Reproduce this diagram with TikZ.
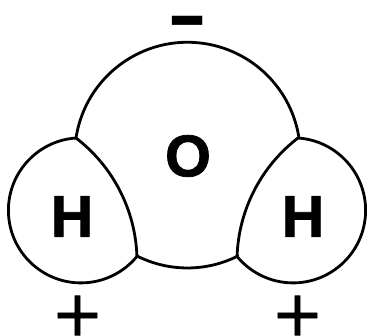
\documentclass[tikz,border=0pt]{standalone}
\usepackage{fontspec}
\setmainfont{Liberation Sans}
\newfontfamily\heavyfont[UprightFont=* Bold,FakeBold=1.3]{Liberation Sans}
\newfontfamily\plusfont[FakeBold=1.2]{DejaVu Sans}
\tikzset{
  bond/.style={draw=black,line width=2.1pt,line join=round,line cap=round},
  atomlabel/.style={font=\fontsize{44.2}{44.2}\selectfont\heavyfont,inner sep=0pt,text=black},
  pluslabel/.style={font=\fontsize{47}{47}\selectfont\plusfont,inner sep=0pt,text=black},
  minuslabel/.style={font=\fontsize{46}{46}\selectfont\bfseries,inner sep=0pt,text=black,yscale=1.5,transform shape}
}
\begin{document}
\begin{tikzpicture}[x=0.75pt,y=0.75pt]
\useasboundingbox (0,0) rectangle (367,335);
\clip (0,0) rectangle (367,335);
\coordinate (lt) at (76,197);
\coordinate (lb) at (137,79);
\coordinate (rb) at (238,79);
\coordinate (rt) at (298,197);
% oxygen outer arc
\draw[bond] (lt) arc[start angle=171.3,end angle=8.7,radius=84.6pt];
% bottom of oxygen
\draw[bond] (lb) arc[start angle=243.3,end angle=296.7,radius=84.2pt];
% hydrogen outer arcs
\draw[bond] (lt) arc[start angle=93.9,end angle=321.2,radius=54.4pt];
\draw[bond] (rt) arc[start angle=86.1,end angle=-141.2,radius=54.4pt];
% shared boundaries
\draw[bond] (lt) arc[start angle=52.5,end angle=2.1,radius=117pt];
\draw[bond] (rt) arc[start angle=127.5,end angle=177.9,radius=117pt];
\node[atomlabel] (oxy) at (188,179) {O};
\node[atomlabel] (hl) at (72,118.5) {H};
\node[atomlabel] (hr) at (303,118.5) {H};
\node[minuslabel] (minus) at (187.5,304.5) {–};
\node[pluslabel] (pl) at (77.5,19.5) {+};
\node[pluslabel] (pr) at (297.5,19.5) {+};
\end{tikzpicture}
\end{document}
